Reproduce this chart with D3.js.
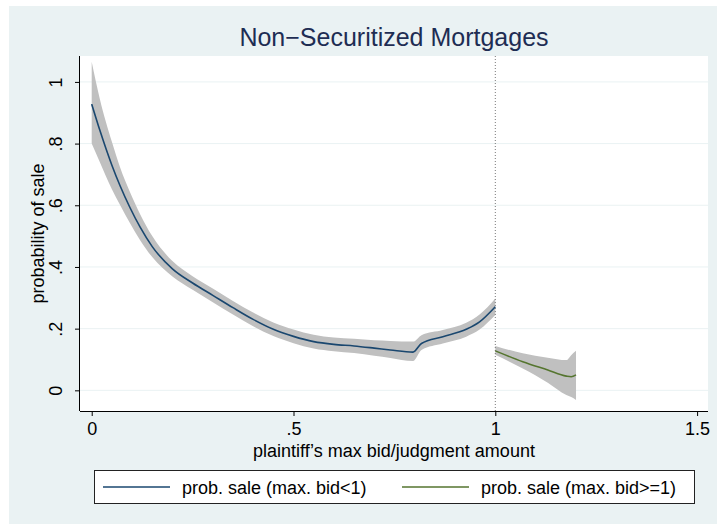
<!DOCTYPE html>
<html lang="en">
<head>
<meta charset="UTF-8">
<title>Non-Securitized Mortgages</title>
<script src="https://d3js.org/d3.v7.min.js"></script>
<style>
    body { margin: 0; background: #ffffff; }
    svg { display: block; font-family: "Liberation Sans", Arial, sans-serif; }
</style>
</head>
<body>
<svg id="chart" width="717" height="525"></svg>
<script>
// series below 1 (blue) and at/above 1 (green), with CI bands
var bidLow = [0, 0.02, 0.05, 0.07, 0.095, 0.12, 0.15, 0.2, 0.25, 0.3, 0.35, 0.4, 0.45, 0.5, 0.55, 0.6, 0.65, 0.7, 0.74, 0.796, 0.817, 0.87, 0.928, 0.961, 1.0];
var probLow = [0.928, 0.844, 0.73, 0.664, 0.592, 0.529, 0.466, 0.394, 0.348, 0.308, 0.268, 0.23, 0.198, 0.175, 0.158, 0.149, 0.144, 0.137, 0.131, 0.124, 0.152, 0.174, 0.198, 0.222, 0.271];
var loLow = [0.80, 0.74, 0.652, 0.602, 0.542, 0.487, 0.432, 0.369, 0.326, 0.286, 0.246, 0.208, 0.176, 0.153, 0.136, 0.127, 0.121, 0.112, 0.105, 0.095, 0.131, 0.152, 0.174, 0.197, 0.244];
var hiLow = [1.065, 0.945, 0.806, 0.724, 0.642, 0.571, 0.50, 0.419, 0.37, 0.33, 0.29, 0.252, 0.22, 0.197, 0.18, 0.171, 0.167, 0.162, 0.16, 0.158, 0.179, 0.196, 0.219, 0.246, 0.298];

var bidHigh = [1.0, 1.068, 1.13, 1.176, 1.188, 1.2];
var probHigh = [0.128, 0.093, 0.066, 0.046, 0.044, 0.05];
var loHigh = [0.115, 0.071, 0.025, -0.015, -0.022, -0.031];
var hiHigh = [0.144, 0.12, 0.106, 0.098, 0.114, 0.128];

var xTicks = [0, 0.5, 1, 1.5];
var xTickLabels = ["0", ".5", "1", "1.5"];
var yTicks = [0, 0.2, 0.4, 0.6, 0.8, 1];
var yTickLabels = ["0", ".2", ".4", ".6", ".8", "1"];

var legendLabels = ["prob. sale (max. bid<1)", "prob. sale (max. bid>=1)"];

function program() {
    var svg = d3.select("#chart");
    var left = 80, right = 708, top = 56, bottom = 411;

    // outer graph region
    svg.append("rect")
        .attr("x", 9).attr("y", 6)
        .attr("width", 708).attr("height", 518)
        .attr("fill", "#eaf2f3");

    // plot region
    svg.append("rect")
        .attr("x", left).attr("y", top)
        .attr("width", right - left).attr("height", bottom - top)
        .attr("fill", "#ffffff");

    var x = d3.scaleLinear().domain([-0.029, 1.527]).range([left, right]);
    var y = d3.scaleLinear().domain([-0.067, 1.084]).range([bottom, top]);

    // grid
    svg.append("g")
        .selectAll("line")
        .data(yTicks)
        .join("line")
        .attr("x1", left).attr("x2", right)
        .attr("y1", function(d) { return y(d); })
        .attr("y2", function(d) { return y(d); })
        .attr("stroke", "#eaf2f3")
        .attr("stroke-width", 1);

    var low = bidLow.map(function(b, i) {
        return {x: b, y: probLow[i], lo: loLow[i], hi: hiLow[i]};
    });
    var high = bidHigh.map(function(b, i) {
        return {x: b, y: probHigh[i], lo: loHigh[i], hi: hiHigh[i]};
    });

    var band = d3.area()
        .curve(d3.curveMonotoneX)
        .x(function(d) { return x(d.x); })
        .y0(function(d) { return y(d.lo); })
        .y1(function(d) { return y(d.hi); });

    var line = d3.line()
        .curve(d3.curveMonotoneX)
        .x(function(d) { return x(d.x); })
        .y(function(d) { return y(d.y); });

    svg.append("path").datum(low).attr("d", band).attr("fill", "#c0c0c0");
    svg.append("path").datum(high).attr("d", band).attr("fill", "#c0c0c0");

    // dotted reference line at 1
    svg.append("line")
        .attr("x1", x(1)).attr("x2", x(1))
        .attr("y1", top).attr("y2", bottom)
        .attr("stroke", "#777777")
        .attr("stroke-width", 1)
        .attr("stroke-dasharray", "1,2");

    svg.append("path").datum(low).attr("d", line)
        .attr("fill", "none").attr("stroke", "#1a476f").attr("stroke-width", 1.6);
    svg.append("path").datum(high).attr("d", line)
        .attr("fill", "none").attr("stroke", "#55752f").attr("stroke-width", 1.6);

    // x axis
    var xAxis = svg.append("g")
        .attr("transform", "translate(0," + bottom + ")")
        .call(d3.axisBottom(x)
            .tickValues(xTicks)
            .tickSize(5)
            .tickFormat(function(d, i) { return xTickLabels[i]; }));
    xAxis.select(".domain").attr("d", "M" + left + ",0.5H" + right).attr("stroke", "#000");
    xAxis.selectAll(".tick line").attr("stroke", "#000");
    xAxis.selectAll(".tick text")
        .attr("y", 24).attr("dy", null)
        .attr("font-size", 18)
        .attr("font-family", "Liberation Sans, Arial, sans-serif")
        .attr("fill", "#000");

    // y axis, rotated labels
    var yAxis = svg.append("g")
        .attr("transform", "translate(" + left + ",0)")
        .call(d3.axisLeft(y)
            .tickValues(yTicks)
            .tickSize(5)
            .tickFormat(function(d, i) { return yTickLabels[i]; }));
    yAxis.select(".domain").attr("d", "M-0.5," + top + "V" + bottom).attr("stroke", "#000");
    yAxis.selectAll(".tick line").attr("stroke", "#000");
    yAxis.selectAll(".tick text")
        .attr("transform", "rotate(-90)")
        .attr("x", 0).attr("y", -18).attr("dy", null)
        .attr("text-anchor", "middle")
        .attr("font-size", 18)
        .attr("font-family", "Liberation Sans, Arial, sans-serif")
        .attr("fill", "#000");

    // titles
    svg.append("text")
        .attr("x", (left + right) / 2).attr("y", 46)
        .attr("text-anchor", "middle")
        .attr("font-size", 25)
        .attr("fill", "#1e2d53")
        .text("Non\u2212Securitized Mortgages");

    svg.append("text")
        .attr("x", (left + right) / 2).attr("y", 457)
        .attr("text-anchor", "middle")
        .attr("font-size", 18)
        .text("plaintiff\u2019s max bid/judgment amount");

    svg.append("text")
        .attr("transform", "translate(43.5," + (top + bottom) / 2 + ") rotate(-90)")
        .attr("text-anchor", "middle")
        .attr("font-size", 18)
        .text("probability of sale");

    // legend
    var legend = svg.append("g");
    legend.append("rect")
        .attr("x", 94.5).attr("y", 470.5)
        .attr("width", 600).attr("height", 33)
        .attr("fill", "#ffffff")
        .attr("stroke", "#222222")
        .attr("stroke-width", 1);

    var items = [
        {label: legendLabels[0], color: "#1a476f", x0: 103},
        {label: legendLabels[1], color: "#55752f", x0: 402}
    ];
    var li = legend.selectAll("g.item")
        .data(items)
        .join("g")
        .attr("class", "item");
    li.append("line")
        .attr("x1", function(d) { return d.x0; })
        .attr("x2", function(d) { return d.x0 + 67; })
        .attr("y1", 487).attr("y2", 487)
        .attr("stroke", function(d) { return d.color; })
        .attr("stroke-width", 1.6);
    li.append("text")
        .attr("x", function(d) { return d.x0 + 79; })
        .attr("y", 493.5)
        .attr("font-size", 18)
        .text(function(d) { return d.label; });
}

program();
</script>
</body>
</html>
